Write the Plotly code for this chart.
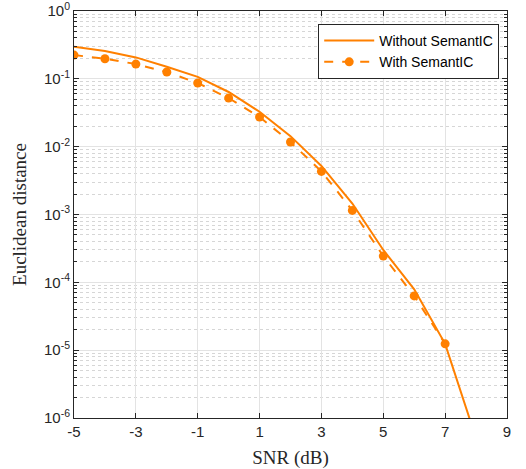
import plotly.graph_objects as go

snr = [-5, -4, -3, -2, -1, 0, 1, 2, 3, 4, 5, 6, 7, 8]
without_semantic = [0.298, 0.257, 0.207, 0.151, 0.107, 0.064, 0.0327, 0.0143, 0.0052, 0.00145, 3.0e-4, 7.9e-5, 1.24e-5, 5.0e-7]
snr_with = [-5, -4, -3, -2, -1, 0, 1, 2, 3, 4, 5, 6, 7]
with_semantic = [0.224, 0.198, 0.165, 0.126, 0.0867, 0.052, 0.0274, 0.0117, 0.00432, 0.00115, 2.44e-4, 6.3e-5, 1.24e-5]

x_ticks = [-5, -3, -1, 1, 3, 5, 7, 9]
y_tickvals = [1e-6, 1e-5, 1e-4, 1e-3, 1e-2, 1e-1, 1e0]
y_ticktext = ["10<sup>-6</sup>", "10<sup>-5</sup>", "10<sup>-4</sup>", "10<sup>-3</sup>",
              "10<sup>-2</sup>", "10<sup>-1</sup>", "10<sup>0</sup>"]
y_minor = [k * 10.0 ** e for e in range(-6, 0) for k in range(2, 10)]

orange = "#FF8000"
axis_color = "#262626"
serif = "Liberation Serif, Times New Roman, serif"

fig = go.Figure()
fig.add_trace(go.Scatter(x=snr, y=without_semantic, mode="lines", name="Without SemantIC",
                         line=dict(color=orange, width=2)))
fig.add_trace(go.Scatter(x=snr_with, y=with_semantic, mode="lines+markers", name="With SemantIC",
                         line=dict(color=orange, width=2, dash="dash"),
                         marker=dict(color=orange, size=9)))

fig.update_layout(
    width=526, height=469,
    margin=dict(l=74, r=19, t=11, b=51, autoexpand=False),
    paper_bgcolor="white", plot_bgcolor="white",
    font=dict(family="Liberation Sans, Arial", size=15, color=axis_color),
    legend=dict(x=0.982, y=0.968, xanchor="right", yanchor="top",
                bgcolor="white", bordercolor=axis_color, borderwidth=1,
                font=dict(size=14, color="black"), tracegroupgap=0,
                itemwidth=50),
    showlegend=True,
)
fig.update_xaxes(
    range=[-5, 9], tickvals=x_ticks, ticktext=[str(v) for v in x_ticks],
    ticks="inside", ticklen=5, tickcolor=axis_color, automargin=False,
    ticklabeloverflow="allow",
    showline=True, linecolor=axis_color, linewidth=1, mirror="allticks",
    showgrid=True, gridcolor="#E3E3E3", gridwidth=1, zeroline=False,
    title=dict(text="SNR (dB)", font=dict(family=serif, size=19, color=axis_color), standoff=11),
)
fig.update_yaxes(
    type="log", range=[-6, 0], tickvals=y_tickvals, ticktext=y_ticktext,
    ticks="inside", ticklen=5, tickcolor=axis_color, automargin=False,
    ticklabeloverflow="allow",
    showline=True, linecolor=axis_color, linewidth=1, mirror="allticks",
    showgrid=True, gridcolor="#E3E3E3", gridwidth=1, zeroline=False,
    minor=dict(tickvals=y_minor, ticks="inside", ticklen=3, tickcolor=axis_color,
               showgrid=True, gridcolor="#D6D6D6", griddash="dot", gridwidth=1),
    title=dict(text="Euclidean distance", font=dict(family=serif, size=19, color=axis_color), standoff=12),
)

# remove the default 8px page margin so the figure fills the window exactly
fig.write_html("out.html", config={"displayModeBar": False},
               post_script="document.body.style.margin='0';")
